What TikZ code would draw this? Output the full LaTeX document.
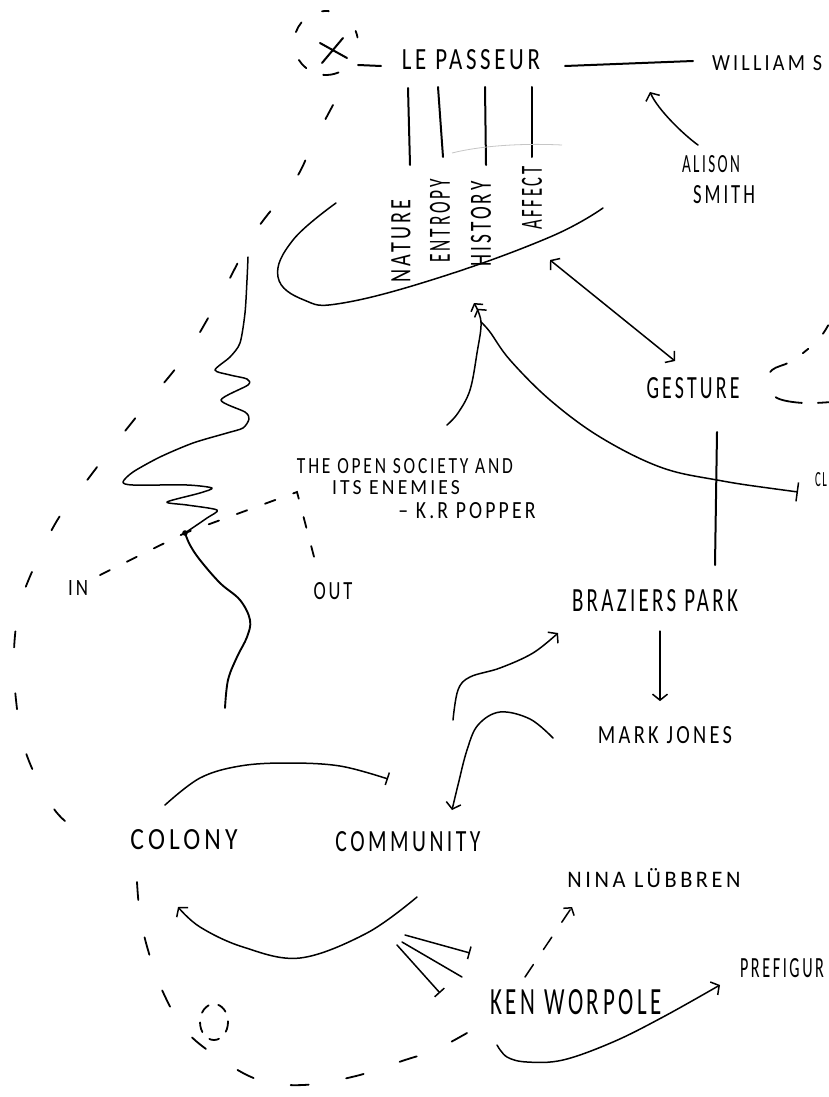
\documentclass[tikz,border=0pt]{standalone}
\usepackage{fontspec}
\setmainfont{Carlito}[LetterSpace=16]
\usepackage{graphicx}
\usetikzlibrary{arrows.meta}
\newcommand{\hw}[3]{\resizebox{#1pt}{#2pt}{#3}}
\begin{document}
\begin{tikzpicture}[x=1pt,y=-1pt,
  ink/.style={line width=1.5pt,line cap=round,line join=round},
  inkb/.style={line width=2pt,line cap=round,line join=round},
  dsh/.style={line width=1.8pt,line cap=round},
  lbl/.style={inner sep=0pt,outer sep=2pt},
  barb/.style={-{Straight Barb[length=6pt,width=15pt]}},
  barend/.style={-{Bar[width=13pt]}}]
\useasboundingbox (0,0) rectangle (829,1097);
\fill[white] (0,0) rectangle (829,1097);

% ---------- labels ----------
\node[lbl] (lp) at (471,60) {\hw{138}{20}{LE PASSEUR}};
\node[lbl,anchor=west] (ws) at (710,63) {\hw{110}{15}{WILLIAM S}};
\node[lbl] (al1) at (711,164) {\hw{58}{17}{ALISON}};
\node[lbl] (al2) at (724,195) {\hw{62}{18}{SMITH}};
\node[lbl,rotate=90] (nat) at (401,241) {\hw{83}{19}{NATURE}};
\node[lbl,rotate=90] (ent) at (440,221) {\hw{83}{20}{ENTROPY}};
\node[lbl,rotate=90] (his) at (481,224) {\hw{85}{20}{HISTORY}};
\node[lbl,rotate=90] (aff) at (532,198) {\hw{63}{20}{AFFECT}};
\node[lbl] (ges) at (693,388) {\hw{93}{21}{GESTURE}};
\node[lbl,anchor=west] (cl) at (813,480) {\hw{12}{14}{CL}};
\node[lbl] (pop1) at (405,466) {\hw{216}{15}{THE OPEN SOCIETY AND}};
\node[lbl] (pop2) at (396,488) {\hw{128}{14}{ITS ENEMIES}};
\node[lbl] (pop3) at (467,511) {\hw{137}{16}{– K.R POPPER}};
\node[lbl] (nin) at (78,588) {\hw{20}{15}{IN}};
\node[lbl] (nout) at (333,591) {\hw{39}{17}{OUT}};
\node[lbl] (bp) at (655,601) {\hw{166}{22}{BRAZIERS PARK}};
\node[lbl] (mj) at (665,735) {\hw{134}{17}{MARK JONES}};
\node[lbl] (col) at (184,840) {\hw{107}{20}{COLONY}};
\node[lbl] (com) at (408,842) {\hw{145}{20}{COMMUNITY}};
\node[lbl] (nina) at (654,878) {\hw{173}{19}{NINA LÜBBREN}};
\node[lbl] (ken) at (576,1002) {\hw{172}{25}{KEN WORPOLE}};
\node[lbl,anchor=west] (pre) at (738,968) {\hw{84}{19}{PREFIGUR}};

% ---------- X in dashed circle ----------
\coordinate (xc) at (326,43);
\draw[inkb] (320,43) -- (347,58);
\draw[inkb] (343,38) -- (322,63);
\foreach \a/\b in {10/22,85/97,140/160,212/232,265/293}
  \draw[dsh] (xc) ++(-\a:32) arc[start angle=-\a,end angle=-\b,radius=32];
\coordinate (u1) at (358,65);
\coordinate (u2) at (381,66);
\draw[inkb] (u1) -- (u2);

% ---------- top connectors ----------
\coordinate (l1a) at (565,66); \coordinate (l1b) at (693,61);
\draw[inkb] (l1a) -- (l1b);
\draw[inkb] (408,88) -- (410,165);
\draw[inkb] (438,87) -- (443,157);
\draw[inkb] (485,87) -- (486,165);
\draw[inkb] (532,87) -- (532,157);
\draw[gray!45,line width=0.8pt] (452,153) .. controls (480,146) and (520,143) .. (562,145);
\draw[ink,barb] (698,145) .. controls (684,135) and (658,110) .. (650,92);

% ---------- loop ----------
\draw[ink] plot[smooth,tension=0.7] coordinates {(336,203) (293,240) (278,277) (304,300) (343,303) (441,277) (550,237) (603,208)};
\coordinate (lg1) at (550,260); \coordinate (lg2) at (675,361);
\draw[ink,{Straight Barb[length=6pt,width=15pt]}-{Straight Barb[length=6pt,width=15pt]}] (lg1) -- (lg2);

% ---------- converging arrows ----------
\draw[ink,-{Straight Barb[length=5pt,width=14pt] Straight Barb[length=5pt,width=14pt]}] plot[smooth,tension=0.6] coordinates {(447,425) (458,413) (470,390) (477,353) (481,322) (474,303)};
\draw[ink,{Bar[width=19pt]}-] plot[smooth,tension=0.6] coordinates {(798,492) (717,480) (660,467) (600,437) (550,400) (510,360) (490,332) (481,322)};
\draw[inkb] (717,432) -- (715,565);

% ---------- right dashed curve ----------
\draw[dsh,dash pattern=on 10pt off 21pt on 7pt off 19pt on 19pt off 31pt on 27pt off 16pt on 12pt off 6pt,dash phase=162pt]
  plot[smooth,tension=0.6] coordinates {(831,320) (822,335) (808,349) (790,362) (772,370) (765,384) (777,398) (803,403) (831,402)};

% ---------- wavy line ----------
\coordinate (dot) at (185,533);
\draw[ink] plot[smooth,tension=0.45] coordinates {(248,257) (247,280) (245,313) (240,343) (230,357) (215,370) (230,375) (247,379) (248,385) (221,400) (245,412) (249,419) (243,428) (227,433) (193,443) (160,457) (133,472) (123,482) (133,485) (187,485) (212,488) (200,493) (167,502) (187,505) (217,510) (207,518) (dot)};
\draw[line width=1.9pt,line cap=round] plot[smooth,tension=0.6] coordinates {(dot) (190,545) (200,560) (220,583) (240,600) (250,620) (247,637) (237,657) (228,680) (225,708)};
\fill (dot) circle[radius=2.8];

% ---------- IN / OUT ----------
\coordinate (io1) at (100,575); \coordinate (io2) at (297,492); \coordinate (io3) at (318,572);
\draw[dsh,dash pattern=on 11pt off 19pt] (io1) -- (dot) -- (io2) -- (io3);

% ---------- outer dashed loop ----------
\draw[dsh,dash pattern=on 16pt off 46pt] plot[smooth,tension=0.6] coordinates {(333,105) (313,143) (295,180) (255,232) (222,293) (187,353) (149,401) (114,445) (88,479) (58,519) (35,565) (20,605) (14,650) (16,700) (25,750) (48,800) (70,825) (98,837)};

% ---------- middle arrows ----------
\draw[ink,barb] (bp.south) ++(5,17) -- ++(0,70);
\draw[ink,barb] plot[smooth,tension=0.6] coordinates {(453,720) (458,690) (470,677) (500,668) (533,653) (558,633)};
\draw[ink,barb] plot[smooth,tension=0.6] coordinates {(553,738) (530,719) (500,712) (478,725) (467,750) (458,785) (452,810)};

% ---------- colony / community ----------
\draw[ink,barend] plot[smooth,tension=0.6] coordinates {(165,805) (200,778) (240,766) (287,763) (340,766) (388,779)};
\draw[ink,barb] plot[smooth,tension=0.6] coordinates {(417,897) (367,933) (300,958) (243,947) (200,927) (178,907)};
\draw[ink,barend] (405,935) -- (470,953);
\draw[ink] (402,942) -- (462,977);
\draw[ink,barend] (397,945) -- (440,993);

% ---------- bottom dashed loop ----------
\draw[dsh,dash pattern=on 18pt off 38pt] plot[smooth,tension=0.6] coordinates {(137,882) (140,915) (148,950) (162,990) (185,1030) (219,1058) (259,1080) (303,1085) (356,1076) (405,1060) (435,1050) (467,1033)};
\draw[dsh,dash pattern=on 10pt off 10pt] (214,1022) ellipse[x radius=14,y radius=18];

% ---------- ken worpole ----------
\draw[ink,dash pattern=on 15pt off 18pt,-{Straight Barb[length=5pt,width=13pt]}] (525,977) -- (572,907);
\draw[ink,barb] plot[smooth,tension=0.6] coordinates {(497,1045) (507,1057) (527,1062) (563,1060) (613,1042) (663,1017) (720,985)};
\end{tikzpicture}
\end{document}
